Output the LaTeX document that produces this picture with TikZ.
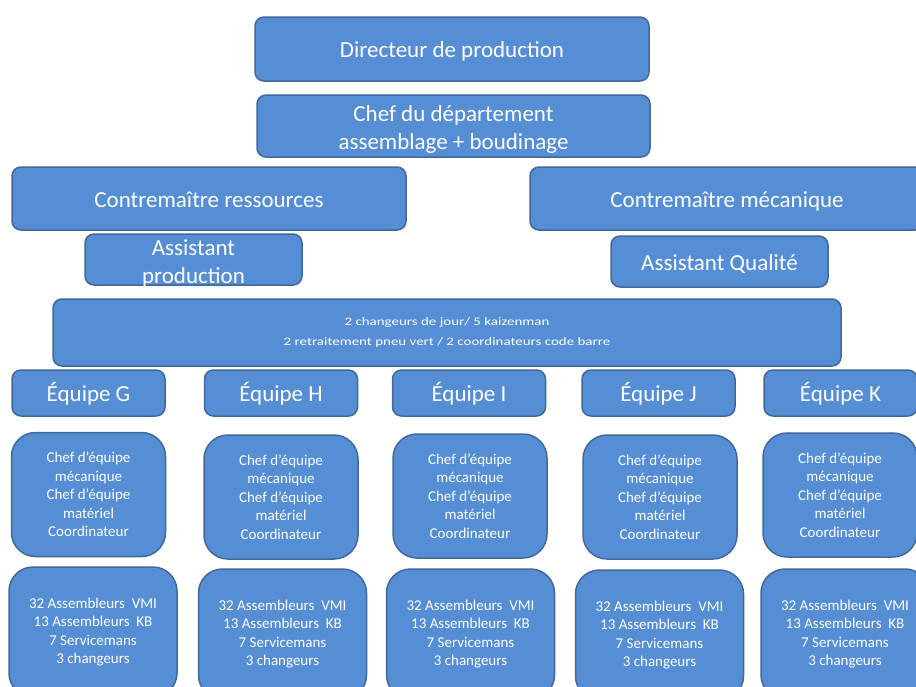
\documentclass[tikz,border=0pt]{standalone}
\usepackage{fontspec}
\setmainfont{Carlito}
\newfontfamily\narrowfont[FakeStretch=1.3]{Carlito}
\definecolor{boxfill}{HTML}{558ED5}
\definecolor{boxline}{HTML}{41689A}

\begin{document}
\begin{tikzpicture}[x=1pt, y=-1pt,
    unit/.style={draw=boxline, line width=1.5pt, fill=boxfill, text=white,
        rounded corners=9pt, inner sep=0pt, align=center,
        font=\fontsize{23}{28}\selectfont},
    oneline/.style={unit, text height=17pt, text depth=0pt},
    team/.style={oneline, minimum width=153pt, minimum height=46pt},
    card/.style={unit, rounded corners=24pt, minimum width=154pt, minimum height=124pt,
        font=\fontsize{15}{18.6}\selectfont},
    crew/.style={card, minimum width=168pt, minimum height=130pt},
    label/.style={text=white, inner sep=0pt, align=center, font=\fontsize{23}{28}\selectfont}]
    \clip (0,0) rectangle (916,686);
    \fill[white] (0,0) rectangle (916,686);

    % direction
    \node[oneline, minimum width=394pt, minimum height=64pt] (dir) at (452, 49) {Directeur de production};
    \node[unit, minimum width=393pt, minimum height=62pt] (chef) at (453.5, 126) {};
    \node[label] (chef-text) at (453.5, 129) {Chef du département\\assemblage + boudinage};

    % contremaitres
    \node[oneline, minimum width=394pt, minimum height=63pt] (cres) at (209, 198.5) {Contremaître ressources};
    \node[oneline, minimum width=394pt, minimum height=63pt] (cmec) at (727, 198.5) {Contremaître mécanique};
    \node[unit, minimum width=217pt, minimum height=51pt] (aprod) at (193.5, 259.5) {};
    \node[label] (aprod-text) at (193.5, 263) {Assistant\\production};
    \node[oneline, minimum width=217pt, minimum height=51pt] (aqual) at (719.5, 261.5) {Assistant Qualité};

    % appui
    \node[unit, minimum width=788pt, minimum height=67pt, font=\narrowfont\fontsize{11.5}{20}\selectfont] (appui) at (447, 332.5)
        {2 changeurs de jour/ 5 kaizenman\\2 retraitement pneu vert / 2 coordinateurs code barre};

    % equipes
    \node[team] (eqG) at (88.5, 393) {Équipe G};
    \node[team] (eqH) at (281, 393) {Équipe H};
    \node[team] (eqI) at (469, 393) {Équipe I};
    \node[team] (eqJ) at (658.5, 393) {Équipe J};
    \node[team] (eqK) at (840.5, 393) {Équipe K};

    \node[card] (chefG) at (88.5, 494.5) {Chef d’équipe\\mécanique\\Chef d’équipe\\matériel\\Coordinateur};
    \node[card] (chefH) at (281, 497) {Chef d’équipe\\mécanique\\Chef d’équipe\\matériel\\Coordinateur};
    \node[card] (chefI) at (470, 496) {Chef d’équipe\\mécanique\\Chef d’équipe\\matériel\\Coordinateur};
    \node[card] (chefJ) at (660, 497) {Chef d’équipe\\mécanique\\Chef d’équipe\\matériel\\Coordinateur};
    \node[card] (chefK) at (840, 495) {Chef d’équipe\\mécanique\\Chef d’équipe\\matériel\\Coordinateur};

    \node[crew] (crewG) at (93, 632) {32 Assembleurs~ VMI\\13 Assembleurs~ KB\\7 Servicemans\\3 changeurs};
    \node[crew] (crewH) at (282.5, 634) {32 Assembleurs~ VMI\\13 Assembleurs~ KB\\7 Servicemans\\3 changeurs};
    \node[crew] (crewI) at (470.5, 634) {32 Assembleurs~ VMI\\13 Assembleurs~ KB\\7 Servicemans\\3 changeurs};
    \node[crew] (crewJ) at (659.5, 635) {32 Assembleurs~ VMI\\13 Assembleurs~ KB\\7 Servicemans\\3 changeurs};
    \node[crew] (crewK) at (845, 634) {32 Assembleurs~ VMI\\13 Assembleurs~ KB\\7 Servicemans\\3 changeurs};
\end{tikzpicture}
\end{document}
